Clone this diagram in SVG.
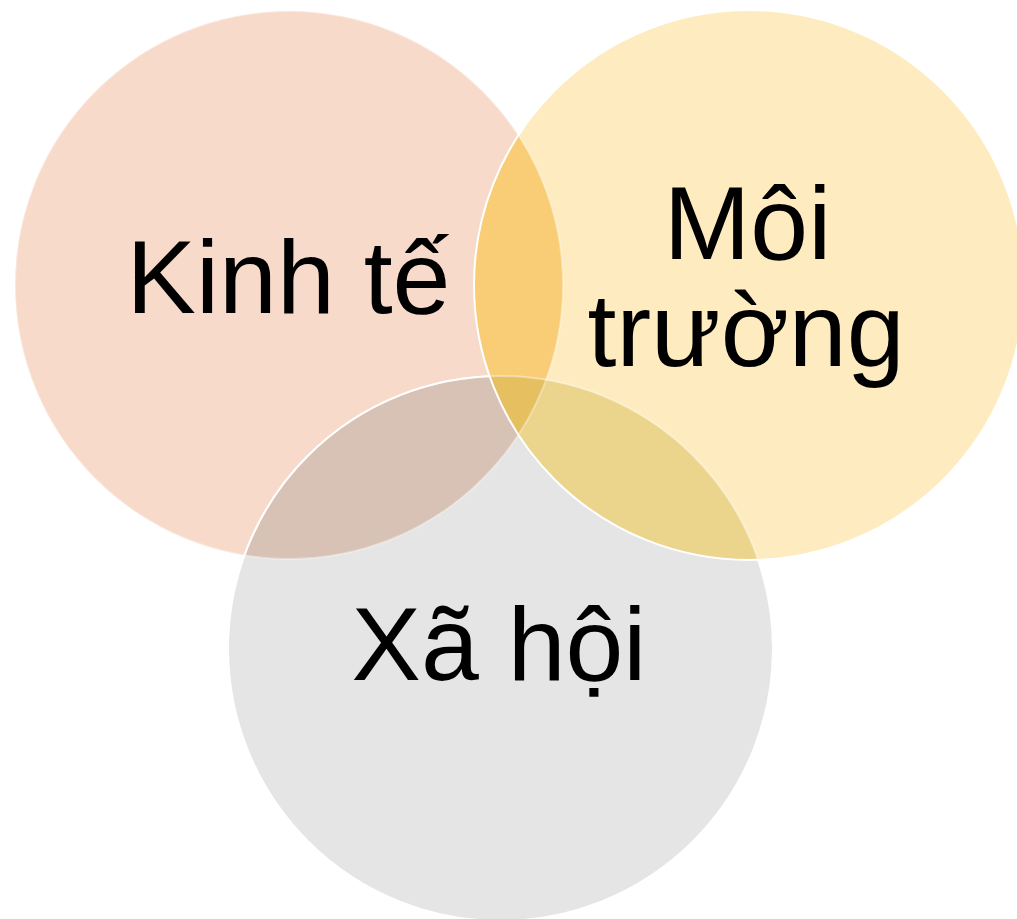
<svg xmlns="http://www.w3.org/2000/svg" width="1017" height="919" viewBox="0 0 1017 919">
  <style>
    .label { font-family: "Liberation Sans", Arial, sans-serif; font-size: 104px; fill: #000000; text-anchor: middle; }
    .edge { fill: none; stroke: #ffffff; stroke-width: 2; }
  </style>
  <defs>
    <circle id="c-econ" cx="289" cy="285" r="274"/>
    <circle id="c-env" cx="749" cy="285" r="275"/>
    <circle id="c-soc" cx="500.5" cy="648.5" r="272.5"/>
    <clipPath id="clip-econ"><use href="#c-econ"/></clipPath>
    <clipPath id="clip-env"><use href="#c-env"/></clipPath>
    <clipPath id="clip-soc"><use href="#c-soc"/></clipPath>
    <mask id="outside-env">
      <rect width="1017" height="919" fill="#ffffff"/>
      <use href="#c-env" fill="#000000"/>
    </mask>
  </defs>

  <rect width="1017" height="919" fill="#ffffff"/>

  <!-- Circle bodies -->
  <g id="node-kinh-te">
    <use href="#c-econ" fill="#F8DACA"/>
  </g>
  <g id="node-xa-hoi">
    <use href="#c-soc" fill="#E5E5E5"/>
  </g>
  <g id="node-moi-truong">
    <use href="#c-env" fill="#FEECC0"/>
  </g>

  <!-- Overlap regions -->
  <g id="overlaps">
    <g clip-path="url(#clip-econ)">
      <use href="#c-soc" fill="#D7C2B5"/>
      <use href="#c-env" fill="#F9CC76"/>
    </g>
    <g clip-path="url(#clip-soc)">
      <use href="#c-env" fill="#EBD48B"/>
    </g>
    <g clip-path="url(#clip-econ)">
      <g clip-path="url(#clip-soc)">
        <use href="#c-env" fill="#E6BF60"/>
      </g>
    </g>
  </g>

  <!-- Circle outlines, stacked bottom to top: economy, society, environment -->
  <g id="outlines">
    <use href="#c-econ" class="edge" stroke-opacity="0.35"/>
    <use href="#c-soc" class="edge" stroke-opacity="0.4"/>
    <use href="#c-soc" class="edge" mask="url(#outside-env)"/>
    <use href="#c-env" class="edge"/>
  </g>

  <!-- Labels -->
  <g id="labels">
    <text class="label" x="288.5" y="313">Kinh tế</text>
    <text class="label" x="747.5" y="259">Môi</text>
    <text class="label" x="746" y="366">trường</text>
    <text class="label" x="499" y="680">Xã hội</text>
  </g>
</svg>
